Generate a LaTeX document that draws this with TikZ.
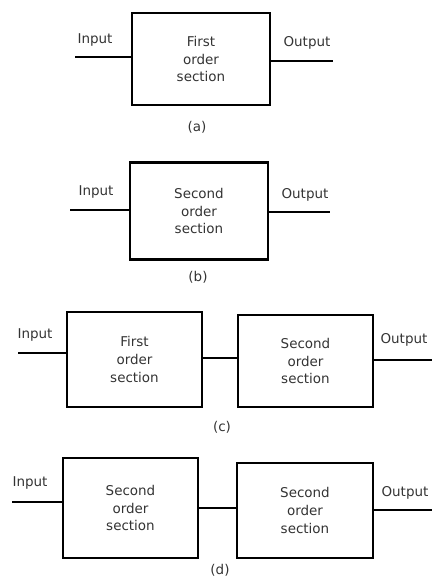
\documentclass[tikz,border=0pt]{standalone}
\usepackage{fontspec}
\setmainfont{DejaVu Sans}
\usepackage{tikz}

\begin{document}
\begin{tikzpicture}[x=0.03cm,y=-0.03cm,
    sect/.style={draw,line width=2pt,align=center,inner sep=0pt,
      font=\fontsize{11.5}{15}\selectfont,text=black!80},
    lbl/.style={font=\fontsize{11.5}{14}\selectfont,text=black!80},
    wire/.style={line width=1.5pt}]
    \useasboundingbox (0,0) rectangle (432,578);

    \node[sect,minimum width=4.14cm,minimum height=2.76cm] (firsta) at (201,59) {First\\order\\section};
    \coordinate (ina) at (75,57);
    \coordinate (outa) at (333,61);
    \draw[wire] (ina) -- (ina -| firsta.west);
    \draw[wire] (firsta.east |- outa) -- (outa);
    \node[lbl] (inlabela) at (95,40) {Input};
    \node[lbl] (outlabela) at (307,43) {Output};
    \node[lbl] (capa) at (197,127) {(a)};

    \node[sect,minimum width=4.14cm,minimum height=2.91cm] (secondb) at (199,211) {Second\\order\\section};
    \coordinate (inb) at (70,210);
    \coordinate (outb) at (330,212);
    \draw[wire] (inb) -- (inb -| secondb.west);
    \draw[wire] (secondb.east |- outb) -- (outb);
    \node[lbl] (inlabelb) at (96,192) {Input};
    \node[lbl] (outlabelb) at (305,195) {Output};
    \node[lbl] (capb) at (198,277) {(b)};

    \node[sect,minimum width=4.05cm,minimum height=2.85cm] (firstc) at (134.5,359.5) {First\\order\\section};
    \node[sect,minimum width=4.05cm,minimum height=2.76cm] (secondc) at (305.5,361) {Second\\order\\section};
    \coordinate (inc) at (18,353);
    \coordinate (midc) at (220,358);
    \coordinate (outc) at (432,360);
    \draw[wire] (inc) -- (inc -| firstc.west);
    \draw[wire] (firstc.east |- midc) -- (secondc.west |- midc);
    \draw[wire] (secondc.east |- outc) -- (outc);
    \node[lbl] (inlabelc) at (35,335) {Input};
    \node[lbl] (outlabelc) at (404,340) {Output};
    \node[lbl] (capc) at (222,427) {(c)};

    \node[sect,minimum width=4.05cm,minimum height=3.0cm] (secondd) at (130.5,508) {Second\\order\\section};
    \node[sect,minimum width=4.08cm,minimum height=2.85cm] (thirdd) at (305,510.5) {Second\\order\\section};
    \coordinate (ind) at (12,502);
    \coordinate (midd) at (218,508);
    \coordinate (outd) at (432,510);
    \draw[wire] (ind) -- (ind -| secondd.west);
    \draw[wire] (secondd.east |- midd) -- (thirdd.west |- midd);
    \draw[wire] (thirdd.east |- outd) -- (outd);
    \node[lbl] (inlabeld) at (30,483) {Input};
    \node[lbl] (outlabeld) at (405,493) {Output};
    \node[lbl] (capd) at (220,570) {(d)};
\end{tikzpicture}
\end{document}
